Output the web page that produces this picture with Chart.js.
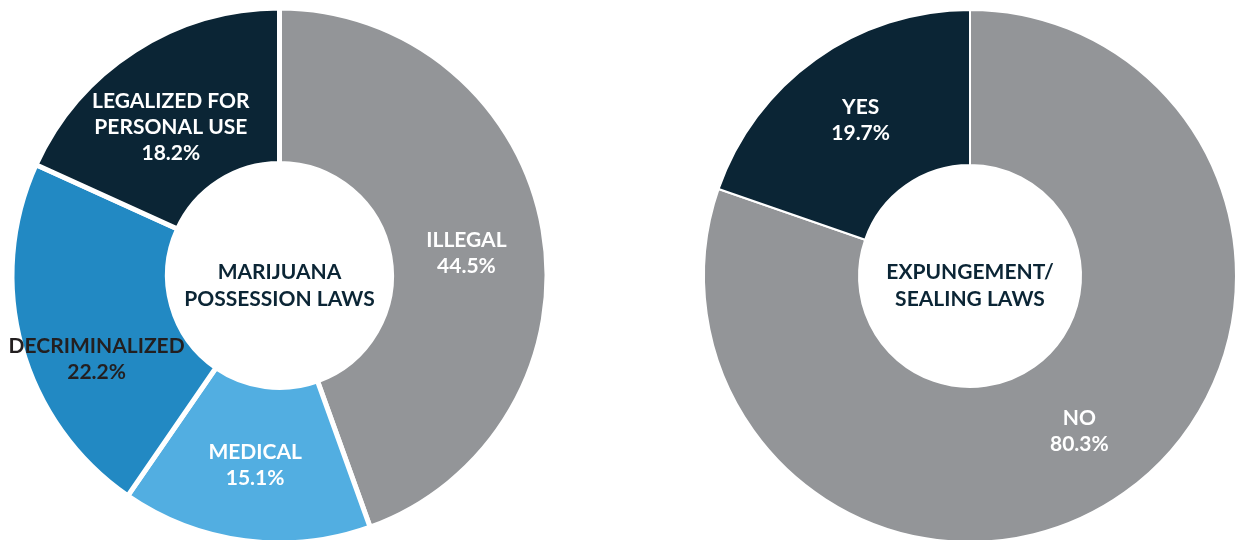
<!DOCTYPE html>
<html>
<head>
<meta charset="utf-8">
<script src="https://cdn.jsdelivr.net/npm/chart.js@4.4.1/dist/chart.umd.min.js"></script>
<style>
  html, body { margin: 0; padding: 0; background: #fff; overflow: hidden; }
  #wrap { position: relative; width: 1235px; height: 540px; overflow: hidden; }
  .box { position: absolute; top: 0; height: 560px; }
  #boxLeft { left: 0; width: 620px; }
  #boxRight { left: 640px; width: 620px; }
</style>
</head>
<body>
<div id="wrap">
  <div class="box" id="boxLeft"><canvas id="possessionChart"></canvas></div>
  <div class="box" id="boxRight"><canvas id="expungeChart"></canvas></div>
</div>
<script>
// Marijuana possession laws (percent of states)
const possessionLabels = [['ILLEGAL'], ['MEDICAL'], ['DECRIMINALIZED'], ['LEGALIZED FOR', 'PERSONAL USE']];
const possessionValues = [44.5, 15.1, 22.2, 18.2];
const possessionTitle = ['MARIJUANA', 'POSSESSION LAWS'];

// Expungement / sealing laws
const expungeLabels = [['NO'], ['YES']];
const expungeValues = [80.3, 19.7];
const expungeTitle = ['EXPUNGEMENT/', 'SEALING LAWS'];

const GRAY = '#939598';
const NAVY = '#0b2535';
const BLUE = '#2289c3';
const LIGHT_BLUE = '#52aee1';
const FONT = "Lato, 'Noto Sans', sans-serif";

// draws slice labels + center title
const labelPlugin = {
    id: 'sliceLabels',
    afterDatasetsDraw(chart, args, opts) {
        const ctx = chart.ctx;
        const meta = chart.getDatasetMeta(0);
        const ds = chart.data.datasets[0];
        ctx.save();
        ctx.textAlign = 'center';
        ctx.textBaseline = 'middle';
        meta.data.forEach((arc, i) => {
            const p = arc.getProps(['x', 'y', 'startAngle', 'endAngle', 'innerRadius', 'outerRadius'], true);
            const mid = (p.startAngle + p.endAngle) / 2;
            const r = (p.innerRadius + p.outerRadius) / 2;
            const nudge = (opts.nudge && opts.nudge[i]) || [0, 0];
            const cx = p.x + Math.cos(mid) * r + nudge[0];
            const cy = p.y + Math.sin(mid) * r + nudge[1];
            const lines = chart.data.labels[i].slice();
            lines.push(ds.data[i].toFixed(1) + '%');
            const lh = 26;
            const top = cy - (lines.length - 1) * lh / 2;
            ctx.fillStyle = (opts.textColors && opts.textColors[i]) || '#fff';
            ctx.font = 'bold 21px ' + FONT;
            lines.forEach((t, j) => {
                ctx.fillText(t, cx, top + j * lh);
            });
        });
        // center title
        const c = meta.data[0].getProps(['x', 'y'], true);
        ctx.fillStyle = NAVY;
        ctx.font = 'bold 21px ' + FONT;
        const title = opts.title || [];
        title.forEach((t, j) => {
            ctx.fillText(t, c.x, c.y + 10 + (j - (title.length - 1) / 2) * 27);
        });
        ctx.restore();
    }
};

const makeDoughnut = (id, labels, values, colors, cfg) => {
    return new Chart(document.getElementById(id), {
        type: 'doughnut',
        data: {
            labels: labels,
            datasets: [{
                data: values,
                backgroundColor: colors,
                borderColor: '#ffffff',
                borderWidth: cfg.borderWidth,
                hoverOffset: 0
            }]
        },
        options: {
            responsive: true,
            maintainAspectRatio: false,
            animation: false,
            cutout: cfg.cutout,
            events: [],
            layout: { padding: cfg.padding },
            plugins: {
                legend: { display: false },
                tooltip: { enabled: false },
                sliceLabels: {
                    title: cfg.title,
                    nudge: cfg.nudge,
                    textColors: cfg.textColors
                }
            }
        },
        plugins: [labelPlugin]
    });
};

makeDoughnut('possessionChart', possessionLabels, possessionValues,
    [GRAY, LIGHT_BLUE, BLUE, NAVY], {
        borderWidth: 5,
        cutout: 112,
        padding: { left: 9.5, right: 70.5, top: 5.5, bottom: 14.5 },
        title: possessionTitle,
        nudge: [[0, 10], [0, 2], [0, 33], [-6, 11]],
        textColors: ['#fff', '#fff', '#231f20', '#fff']
    });

makeDoughnut('expungeChart', expungeLabels, expungeValues,
    [GRAY, NAVY], {
        borderWidth: 2,
        cutout: 111,
        padding: { left: 63, right: 23, top: 9, bottom: 17 },
        title: expungeTitle,
        nudge: [[0, 2], [0, -2]],
        textColors: ['#fff', '#fff']
    });
</script>
</body>
</html>
